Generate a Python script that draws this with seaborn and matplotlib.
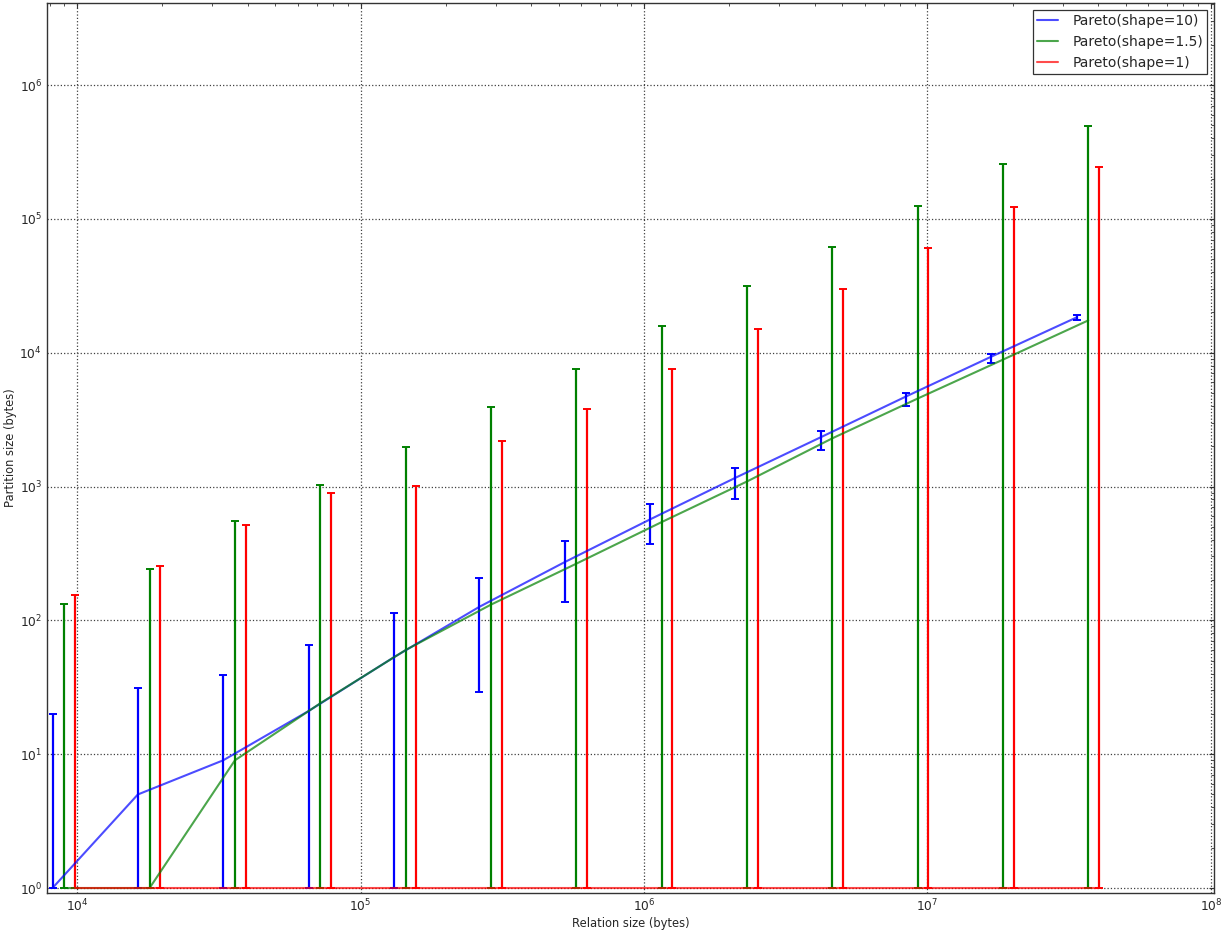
import numpy as np
import pandas as pd
import matplotlib
matplotlib.use("Agg")
import matplotlib.pyplot as plt
import seaborn as sns

# ---- data ----
relation_sizes = [8192, 16384, 32768, 65536, 131072, 262144, 524288,
                  1048576, 2097152, 4194304, 8388608, 16777216, 33554432]
series_names = ["Pareto(shape=10)", "Pareto(shape=1.5)", "Pareto(shape=1)"]

blue_mean = [1, 5, 9, 21, 53, 126, 272, 567, 1160, 2330, 4700, 9330, 18340]
blue_low = [1, 1, 1, 1, 1, 29, 136, 369, 813, 1888, 4020, 8420, 17630]
blue_high = [20, 31, 39, 66, 113, 209, 389, 734, 1387, 2618, 5028, 9836, 19220]

green_mean = [1, 1, 9, 24, 60, 131, 265, 542, 1090, 2290, 4540, 8870, 17420]
green_low = [1, 1, 1, 1, 1, 1, 1, 1, 1, 1, 1, 1, 1]
green_high = [132, 244, 548, 1035, 1989, 3955, 7600, 15900, 31600, 61800,
              125000, 257000, 494000]

red_mean = [1, 1, 1, 1, 1, 1, 1, 1, 1, 1, 1, 1, 1]
red_low = [1, 1, 1, 1, 1, 1, 1, 1, 1, 1, 1, 1, 1]
red_high = [154, 253, 512, 887, 1017, 2205, 3820, 7600, 15100, 30000,
            60800, 123000, 244000]

# ---- style ----
sns.set_style("white")
plt.rcParams["font.family"] = ["DejaVu Sans"]
plt.rcParams["mathtext.fontset"] = "dejavusans"

fig = plt.figure(figsize=(12.25, 9.35), dpi=100)
ax = fig.add_axes([47 / 1225, 1 - 893 / 935, (1214 - 47) / 1225, (893 - 3) / 935])

offsets = [1.0, 1.1, 1.2]
means = [blue_mean, green_mean, red_mean]
lows = [blue_low, green_low, red_low]
highs = [blue_high, green_high, red_high]
bar_colors = [(0, 0, 1), (0, 0.5, 0), (1, 0, 0)]

frames = []
for name, off, m in zip(series_names, offsets, means):
    frames.append(pd.DataFrame({
        "x": np.array(relation_sizes, dtype=float) * off,
        "y": np.array(m, dtype=float),
        "series": name,
    }))
df = pd.concat(frames, ignore_index=True)

palette = dict(zip(series_names, bar_colors))
sns.lineplot(data=df, x="x", y="y", hue="series", hue_order=series_names,
             palette=palette, alpha=0.7, linewidth=1.5, estimator=None,
             sort=True, ax=ax, legend=True, zorder=3)

for off, m, lo, hi, c in zip(offsets, means, lows, highs, bar_colors):
    xs = np.array(relation_sizes, dtype=float) * off
    m = np.array(m, dtype=float)
    lo = np.array(lo, dtype=float)
    hi = np.array(hi, dtype=float)
    ax.errorbar(xs, m, yerr=[m - lo, hi - m], fmt="none", ecolor=c,
                elinewidth=1.6, capsize=3, capthick=1.4, zorder=2)

ax.set_xscale("log")
ax.set_yscale("log")
ax.set_xlim(7834, 1.025e8)
ax.set_ylim(0.918, 4.1e6)

ax.grid(True, which="major", color="0.25", linestyle=":", linewidth=0.9)
ax.tick_params(which="both", direction="in", top=True, right=True,
               labelsize=8.8, color="0.2")
ax.tick_params(which="major", length=3.5, width=0.8)
ax.tick_params(which="minor", length=2, width=0.6)
for s in ax.spines.values():
    s.set_color("0.2")
    s.set_linewidth(1.0)

ax.set_xlabel("Relation size (bytes)", fontsize=8.3, labelpad=2)
ax.set_ylabel("Partition size (bytes)", fontsize=8.3, labelpad=2)

leg = ax.legend(loc="upper right", fontsize=10, fancybox=False, framealpha=1,
                edgecolor="0.2", borderaxespad=0.5, borderpad=0.3,
                handlelength=1.5, handletextpad=1.0, labelspacing=0.5,
                title=None)
leg.get_frame().set_linewidth(0.9)

fig.savefig("out.png", dpi=100)
